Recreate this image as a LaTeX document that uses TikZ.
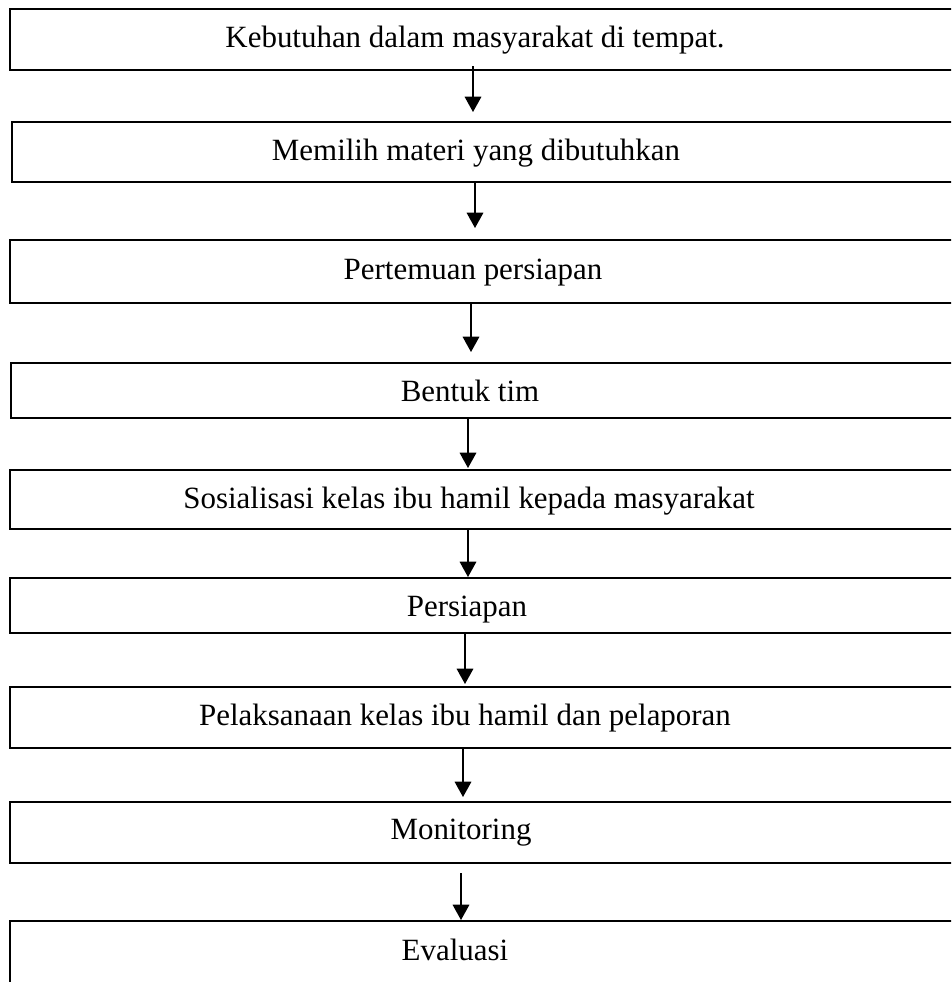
\documentclass[tikz,border=0pt]{standalone}
\usepackage{fontspec}
\setmainfont{Liberation Serif}
\usetikzlibrary{arrows.meta}
\begin{document}
\begin{tikzpicture}[x=0.75pt,y=-0.75pt,
  box/.style={draw, line width=1.5pt, anchor=north west, minimum width=712pt, inner sep=0pt, outer sep=0pt},
  lbl/.style={inner sep=0pt, font=\fontsize{23.2}{28}\selectfont},
  arr/.style={line width=0.9pt, -{Triangle[length=11.5pt,width=12.5pt]}, shorten >=0pt}]
\useasboundingbox (0,0) rectangle (951,982);
\clip (0,0) rectangle (951,982);
\node[box, minimum height=45.75pt] (b1) at (10,9) {};
\node[box, minimum height=45pt] (b2) at (12,122) {};
\node[box, minimum height=47.25pt] (b3) at (10,240) {};
\node[box, minimum height=41.25pt] (b4) at (11,363) {};
\node[box, minimum height=44.25pt] (b5) at (10,470) {};
\node[box, minimum height=41.25pt] (b6) at (10,578) {};
\node[box, minimum height=45.75pt] (b7) at (10,687) {};
\node[box, minimum height=45.75pt] (b8) at (10,802) {};
\node[box, minimum height=59.25pt] (b9) at (10,921) {};
\node[lbl] (t1) at (475,40) {Kebutuhan dalam masyarakat di tempat.};
\node[lbl] (t2) at (476,153) {Memilih materi yang dibutuhkan};
\node[lbl] (t3) at (473,273) {Pertemuan persiapan};
\node[lbl] (t4) at (470,391) {Bentuk tim};
\node[lbl] (t5) at (469,501) {Sosialisasi kelas ibu hamil kepada masyarakat};
\node[lbl] (t6) at (467,610) {Persiapan};
\node[lbl] (t7) at (465,718) {Pelaksanaan kelas ibu hamil dan pelaporan};
\node[lbl] (t8) at (461,833) {Monitoring};
\node[lbl] (t9) at (455,950) {Evaluasi};
\coordinate (a1s) at (473,66);  \coordinate (a1e) at (473,112);
\coordinate (a2s) at (475,182); \coordinate (a2e) at (475,228);
\coordinate (a3s) at (471,303); \coordinate (a3e) at (471,352);
\coordinate (a4s) at (468,418); \coordinate (a4e) at (468,468);
\coordinate (a5s) at (468,529); \coordinate (a5e) at (468,577);
\coordinate (a6s) at (465,633); \coordinate (a6e) at (465,684);
\coordinate (a7s) at (463,748); \coordinate (a7e) at (463,797);
\coordinate (a8s) at (461,873); \coordinate (a8e) at (461,920);
\draw[arr] (a1s) -- (a1e);
\draw[arr] (a2s) -- (a2e);
\draw[arr] (a3s) -- (a3e);
\draw[arr] (a4s) -- (a4e);
\draw[arr] (a5s) -- (a5e);
\draw[arr] (a6s) -- (a6e);
\draw[arr] (a7s) -- (a7e);
\draw[arr] (a8s) -- (a8e);
\end{tikzpicture}
\end{document}
